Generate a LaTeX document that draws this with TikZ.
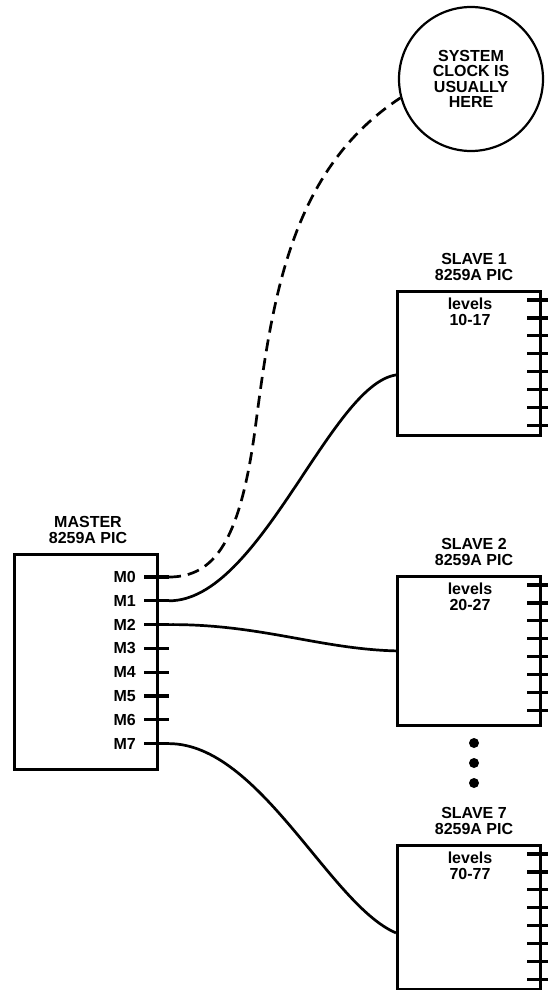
\documentclass[tikz,border=0pt]{standalone}
\usepackage{fontspec}
\setmainfont{Liberation Sans}
\usetikzlibrary{positioning}

\begin{document}
\begin{tikzpicture}[x=1pt,y=-1pt,
    chip/.style={draw, line width=2.8pt, minimum width=143pt, inner sep=0pt, anchor=north west},
    txt/.style={font=\fontsize{16}{15.5}\selectfont\bfseries, align=center, inner sep=0pt},
    pin/.style={line width=3.2pt},
    wire/.style={line width=2.7pt}]
    \useasboundingbox (0,0) rectangle (548,990);

    % Master
    \node[chip, minimum height=215pt] (master) at (13,553) {};
    \node[txt] (mastername) at (88,530) {MASTER\\8259A PIC};
    \foreach \i in {0,...,7} {
        \coordinate (m\i) at (169,577+23.8*\i);
        \draw[pin] (144,577+23.8*\i) -- (m\i);
        \node[txt, anchor=east] (mlabel\i) at (136,577+23.8*\i) {M\i};
    }

    % Slaves
    \foreach \s/\t/\h in {1/290/144, 2/575/149, 7/844/144} {
        \node[chip, minimum height=\h pt] (slave\s) at (396,\t) {};
        \node[txt] (slavename\s) at (474,\t-23) {SLAVE \s\\8259A PIC};
        \node[txt] (levels\s) at (470,\t+22) {levels\\\s0-\s7};
        \foreach \j in {0,...,7}
            \draw[pin] (527,\t+10+17.9*\j) -- (548,\t+10+17.9*\j);
    }

    % Dots between slave 2 and slave 7
    \fill (474,743) circle (5pt);
    \fill (474,763) circle (5pt);
    \fill (474,783) circle (5pt);

    % System clock
    \node[txt, draw, circle, line width=2.2pt, minimum size=144pt] (clock) at (471,79)
        {SYSTEM\\CLOCK IS\\USUALLY\\HERE};

    % Connections
    \draw[wire, dash pattern=on 12pt off 7pt] (m0) .. controls (215,577) and (240,540) .. (255,430)
        .. controls (272,300) and (290,170) .. (clock.195);
    \draw[wire] (m1) .. controls (260,601) and (330,385) .. (slave1.189);
    \draw[wire] (m2) .. controls (260,624) and (320,649) .. (slave2.west);
    \draw[wire] (m7) .. controls (260,744) and (330,905) .. (slave7.192);
\end{tikzpicture}
\end{document}
